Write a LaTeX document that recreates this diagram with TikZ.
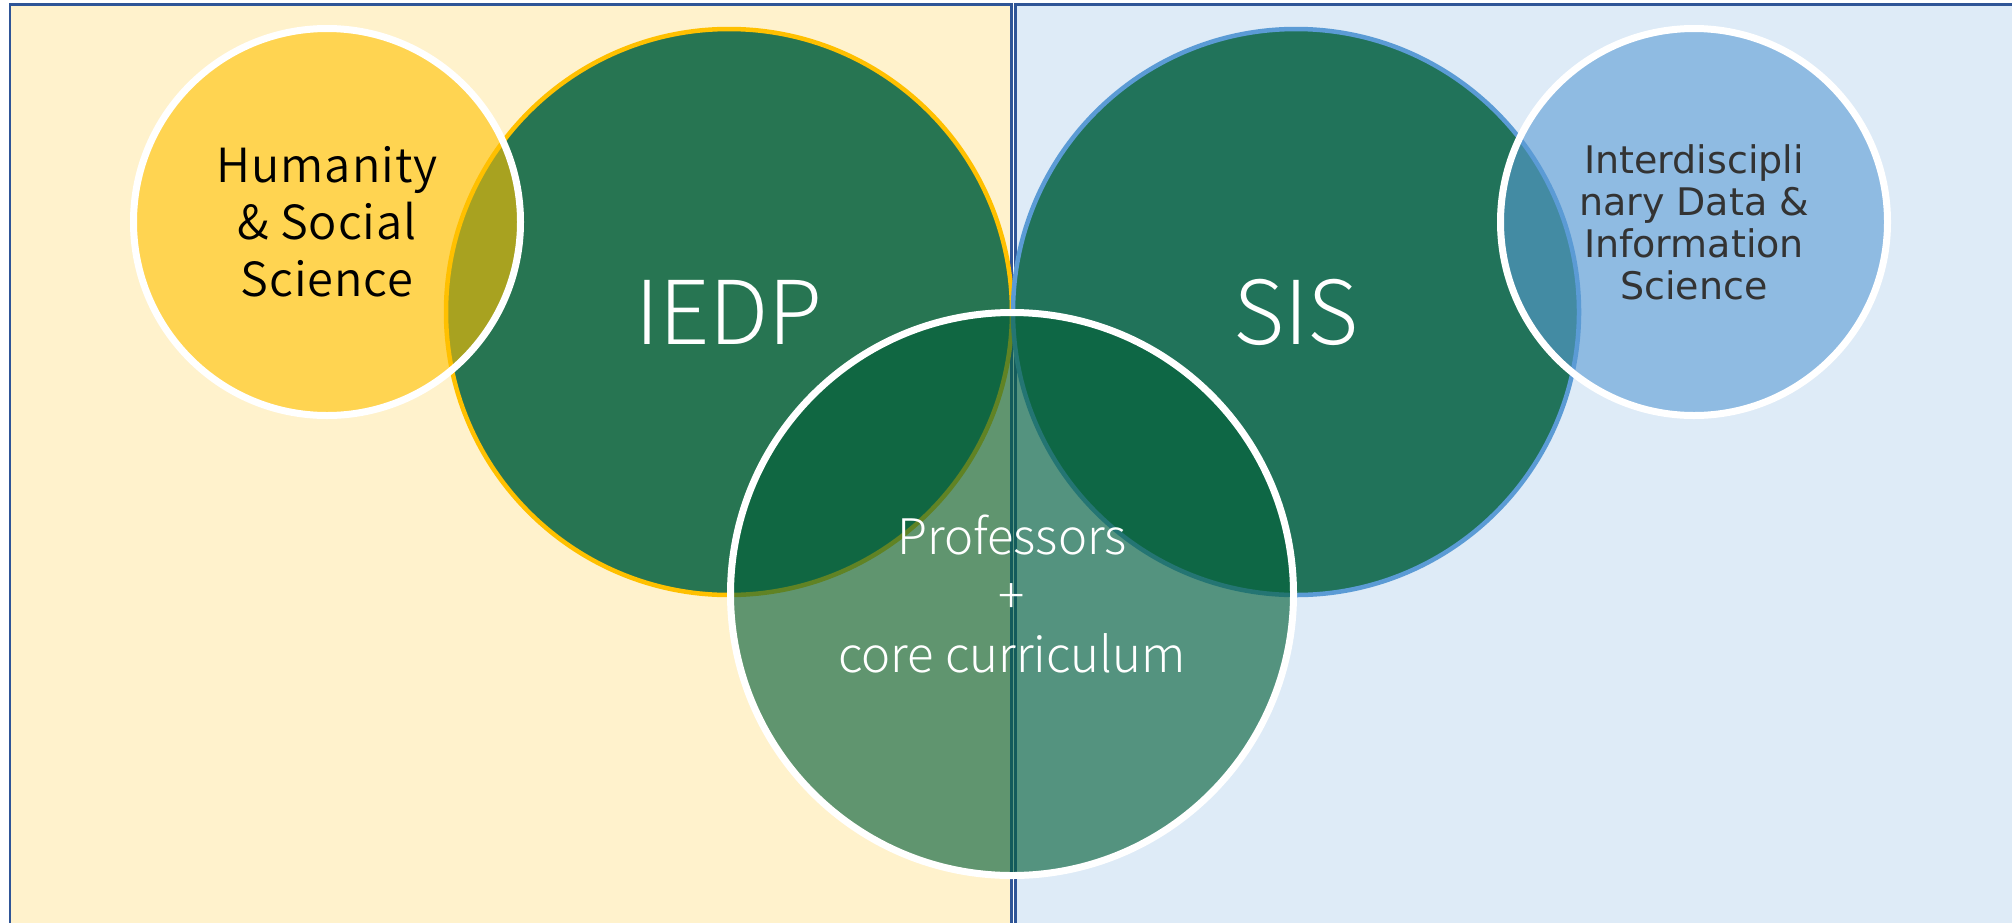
\documentclass[tikz,border=0pt]{standalone}
\usepackage{fontspec}
\usepackage{tikz}

\newfontfamily\jpfont{Noto Sans CJK JP DemiLight}[LetterSpace=2]
\newfontfamily\jplight{Noto Sans CJK JP Light}
\newfontfamily\dvfont{DejaVu Sans}

\definecolor{panelyellow}{HTML}{FFF2CC}
\definecolor{panelblue}{HTML}{DEEBF7}
\definecolor{panelline}{HTML}{2F5597}
\definecolor{gold}{HTML}{FFC000}
\definecolor{skyblue}{HTML}{5B9BD5}
\definecolor{iedpgreen}{HTML}{277552}
\definecolor{sisgreen}{HTML}{21735A}
\definecolor{coregreen}{HTML}{04603A}
\definecolor{darktext}{HTML}{333333}

\begin{document}
\begin{tikzpicture}[x=0.5pt,y=-0.5pt,
    panel/.style={draw=panelline, line width=1.2pt},
    bigcircle/.style={circle, inner sep=0pt, minimum size=283pt, line width=2.25pt,
      text=white, font=\jplight\fontsize{44}{52}\selectfont},
    smallcircle/.style={circle, inner sep=0pt, minimum size=193.5pt, draw=white,
      line width=3.5pt, fill opacity=0.6, text opacity=1, align=center}]

    \useasboundingbox (0,0) rectangle (2012,922);

    % the two halves
    \draw[panel, fill=panelyellow] (10,4.5) rectangle (1011.5,940);
    \draw[panel, fill=panelblue] (1015.5,4.5) rectangle (2030,940);

    % the two programmes
    \node[bigcircle, draw=gold, fill=iedpgreen] (iedp) at (729,312) {IEDP};
    \node[bigcircle, draw=skyblue, fill=sisgreen] (sis) at (1296,312) {SIS};

    % partner fields
    \node[smallcircle, fill=gold, text=black,
      font=\jpfont\fontsize{23.5}{28.5}\selectfont] (hss) at (327,222)
      {Humanity\\\& Social\\Science};
    \node[smallcircle, fill=skyblue, text=darktext,
      font=\dvfont\fontsize{19}{21}\selectfont] (idis) at (1694,222)
      {Interdiscipli\\nary Data \&\\Information\\Science};

    % shared part
    \node[circle, inner sep=0pt, minimum size=281.5pt, draw=white, line width=3.5pt,
      fill=coregreen, fill opacity=0.63, text opacity=1, text=white, align=center,
      font=\jplight\fontsize{24.5}{29.5}\selectfont] (core) at (1012,594)
      {Professors\\+\\core curriculum};

\end{tikzpicture}
\end{document}
